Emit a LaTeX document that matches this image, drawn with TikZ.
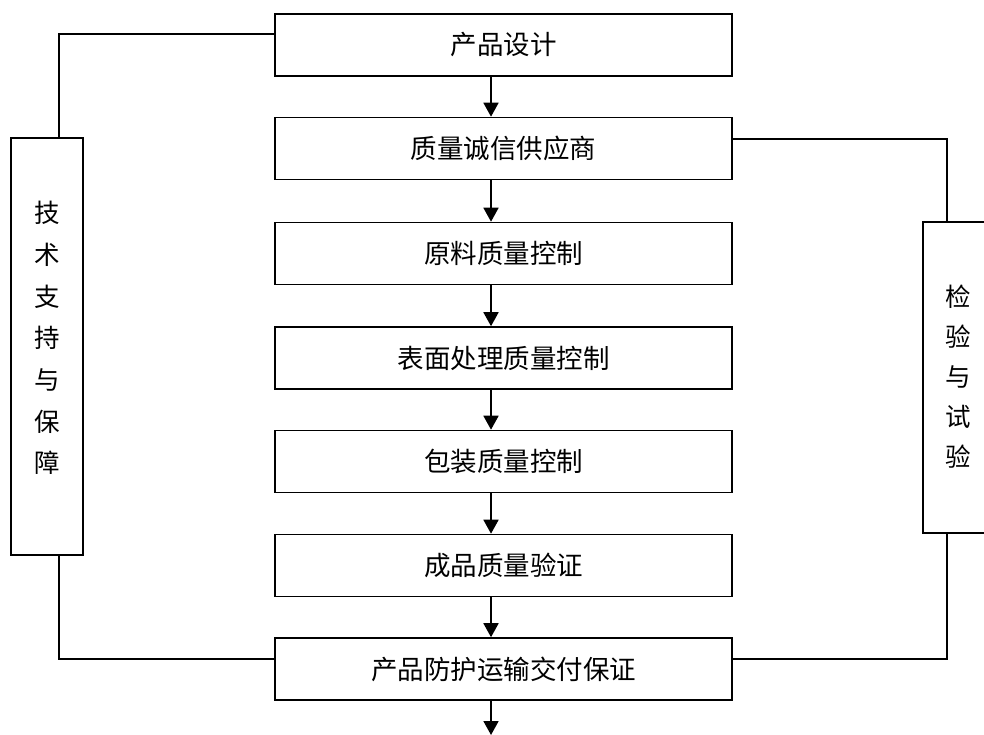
\documentclass[tikz,border=0pt]{standalone}
\usepackage{fontspec}
\newfontfamily\cjk{Noto Sans CJK SC}
\usetikzlibrary{arrows.meta,calc}
\begin{document}
\begin{tikzpicture}[x=1pt,y=-1pt,
  box/.style={draw, line width=1.6pt, minimum width=457pt, minimum height=62pt, inner sep=0pt, font=\cjk\fontsize{26.5}{30}\selectfont},
  sidebox/.style={draw, line width=1.6pt, inner sep=0pt},
  vtext/.style={align=center, inner sep=0pt},
  conn/.style={line width=1.6pt},
  arr/.style={line width=1.8pt, -{Triangle[length=14pt,width=15pt]}}
]
\useasboundingbox (0,0) rectangle (984,735);
\clip (0,0) rectangle (984,735);

% main column
\node[box] (b1) at (503.5,45) {产品设计};
\node[box] (b2) at (503.5,148.5) {质量诚信供应商};
\node[box] (b3) at (503.5,253.5) {原料质量控制};
\node[box] (b4) at (503.5,358) {表面处理质量控制};
\node[box] (b5) at (503.5,461.5) {包装质量控制};
\node[box] (b6) at (503.5,565.5) {成品质量验证};
\node[box] (b7) at (503.5,669) {产品防护运输交付保证};

% side boxes
\node[sidebox, minimum width=72pt, minimum height=417pt] (lbox) at (47,346.5) {};
\node[vtext, font=\cjk\fontsize{25.5}{41.7}\selectfont] (ltxt) at (47,338) {技\\术\\支\\持\\与\\保\\障};
\node[sidebox, minimum width=80pt, minimum height=311pt] (rbox) at (963,377.5) {};
\node[vtext, font=\cjk\fontsize{25.5}{40}\selectfont] (rtxt) at (958,377) {检\\验\\与\\试\\验};

% helper coordinates
\coordinate (ax) at (491,0);
\coordinate (lx) at (59,0);
\coordinate (rx) at (947,0);
\coordinate (endpt) at (491,735);

% arrows
\draw[arr] (b1.south -| ax) -- (b2.north -| ax);
\draw[arr] (b2.south -| ax) -- (b3.north -| ax);
\draw[arr] (b3.south -| ax) -- (b4.north -| ax);
\draw[arr] (b4.south -| ax) -- (b5.north -| ax);
\draw[arr] (b5.south -| ax) -- (b6.north -| ax);
\draw[arr] (b6.south -| ax) -- (b7.north -| ax);
\draw[arr] (b7.south -| ax) -- (endpt);

% side connectors
\draw[conn] ([yshift=11pt]b1.west) -| (lbox.north -| lx);
\draw[conn] (lbox.south -| lx) |- ([yshift=10pt]b7.west);
\draw[conn] ([yshift=9.5pt]b2.east) -| (rbox.north -| rx);
\draw[conn] (rbox.south -| rx) |- ([yshift=10pt]b7.east);
\end{tikzpicture}
\end{document}
